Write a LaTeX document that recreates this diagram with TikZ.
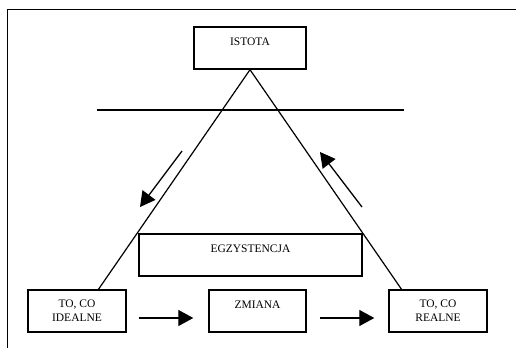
\documentclass[tikz,border=0pt]{standalone}
\usepackage{fontspec}
\setmainfont{Liberation Serif}
\usetikzlibrary{arrows.meta}

\begin{document}
\begin{tikzpicture}[x=1pt,y=-1pt,
    kasten/.style={draw, line width=1.4pt, minimum height=42pt, inner sep=0pt,
      align=center, font=\fontsize{11.5}{14}\selectfont},
    oben/.style={text depth=12pt},
    bein/.style={line width=1.2pt},
    pfeil/.style={line width=1.3pt, -{Triangle[length=15pt,width=16pt]}}]
  \useasboundingbox (0,0) rectangle (516,348);
  \draw[line width=1pt] (7,348) -- (7,9) -- (516,9);

  \node[kasten, oben, minimum width=112pt] (istota) at (250,48) {ISTOTA};
  \node[kasten, oben, minimum width=223pt] (egzystencja) at (250.5,255) {EGZYSTENCJA};
  \node[kasten, minimum width=98pt] (ideal) at (77,311) {TO, CO\\IDEALNE};
  \node[kasten, oben, minimum width=97pt] (zmiana) at (257.5,311) {ZMIANA};
  \node[kasten, minimum width=98pt] (real) at (438,311) {TO, CO\\REALNE};

  \coordinate (fussL) at (98,290);
  \coordinate (fussR) at (402,290);
  \coordinate (linieL) at (97,110);
  \coordinate (linieR) at (404,110);
  \coordinate (abA) at (182,151);
  \coordinate (abB) at (140,207);
  \coordinate (aufA) at (362,207);
  \coordinate (aufB) at (320,152);

  \draw[bein] (fussL) -- (istota.south) -- (fussR);
  \draw[bein] (linieL) -- (linieR);
  \draw[pfeil] (abA) -- (abB);
  \draw[pfeil] (aufA) -- (aufB);
  \draw[pfeil] ([shift={(12,7)}]ideal.east) -- ([shift={(-15,7)}]zmiana.west);
  \draw[pfeil] ([shift={(13,7)}]zmiana.east) -- ([shift={(-14,7)}]real.west);
\end{tikzpicture}
\end{document}
